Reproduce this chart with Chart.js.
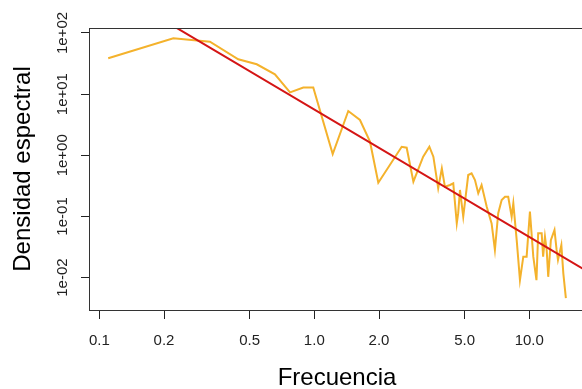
<!DOCTYPE html>
<html>
<head>
<meta charset="utf-8">
<script src="https://cdn.jsdelivr.net/npm/chart.js@4"></script>
<style>
    html, body { margin: 0; padding: 0; background: #ffffff; overflow: hidden; }
    #wrap { width: 584px; height: 389px; }
</style>
</head>
<body>
<div id="wrap"><canvas id="chart" width="584" height="389"></canvas></div>
<script>
// periodogram (frequency, spectral density)
const freq = [
    0.110, 0.221, 0.327, 0.443, 0.540, 0.656, 0.771, 0.889, 0.989, 1.218,
    1.439, 1.631, 1.816, 1.985, 2.55, 2.69, 2.89, 3.21, 3.43, 3.58,
    3.77, 3.92, 4.05, 4.28, 4.43, 4.60, 4.67, 4.76, 4.93, 5.20,
    5.39, 5.59, 5.79, 6.00, 6.34, 6.68, 6.92, 7.17, 7.44, 7.71,
    7.98, 8.28, 8.43, 8.74, 9.05, 9.38, 9.72, 10.07, 10.44, 10.8,
    11.0, 11.42, 11.6, 11.83, 12.05, 12.25, 12.6, 13.1, 13.4, 13.6,
    14.1, 14.4, 14.8,
];
const density = [
    38.6, 81.9, 72.0, 37.1, 30.8, 21.1, 10.7, 12.8, 12.8, 1.05,
    5.3, 3.78, 1.67, 0.356, 1.38, 1.33, 0.370, 0.95, 1.38, 0.95,
    0.289, 0.61, 0.307, 0.327, 0.348, 0.077, 0.113, 0.271, 0.099, 0.476,
    0.508, 0.394, 0.239, 0.327, 0.144, 0.077, 0.0283, 0.113, 0.186, 0.210,
    0.210, 0.099, 0.164, 0.041, 0.0091, 0.022, 0.022, 0.120, 0.022, 0.0091,
    0.053, 0.053, 0.022, 0.0467, 0.0283, 0.0103, 0.041, 0.060, 0.0283, 0.0194,
    0.034, 0.0117, 0.0046,
];

// fitted power law, end points
const fitFreq = [0.0905, 17.97];
const fitDensity = [838, 0.0136];

const xTicks = [0.1, 0.2, 0.5, 1, 2, 5, 10];
const xTickLabels = ["0.1", "0.2", "0.5", "1.0", "2.0", "5.0", "10.0"];
const yTicks = [0.01, 0.1, 1, 10, 100];
const yTickLabels = ["1e-02", "1e-01", "1e+00", "1e+01", "1e+02"];

const YELLOW = "#f4b22c";
const RED = "#d41515";
const INK = "#222222";

const zip = (xs, ys) => xs.map((x, i) => ({ x, y: ys[i] }));

// R style box around the plot region
const boxPlugin = {
    id: "rbox",
    afterDraw(chart) {
        const { ctx, chartArea } = chart;
        ctx.save();
        ctx.strokeStyle = "#333333";
        ctx.lineWidth = 1;
        ctx.strokeRect(
            Math.round(chartArea.left) - 0.5,
            Math.round(chartArea.top) + 0.5,
            Math.round(chartArea.right - chartArea.left) + 1,
            Math.round(chartArea.bottom - chartArea.top)
        );
        ctx.restore();
    },
};

new Chart(document.getElementById("chart"), {
    type: "line",
    data: {
        datasets: [
            {
                data: zip(fitFreq, fitDensity),
                borderColor: RED,
                borderWidth: 2,
                pointRadius: 0,
                tension: 0,
            },
            {
                data: zip(freq, density),
                borderColor: YELLOW,
                borderWidth: 2,
                pointRadius: 0,
                tension: 0,
            },
        ],
    },
    options: {
        responsive: false,
        animation: false,
        events: [],
        layout: { padding: { top: 28, left: 0, right: 0, bottom: 0 } },
        plugins: {
            legend: { display: false },
            tooltip: { enabled: false },
        },
        scales: {
            x: {
                type: "logarithmic",
                bounds: "data",
                min: 0.09051,
                max: 17.97,
                afterBuildTicks: (scale) => {
                    scale.ticks = xTicks.map((value) => ({ value }));
                },
                afterFit: (scale) => {
                    scale.height = 79;
                },
                border: { display: false },
                grid: {
                    drawOnChartArea: false,
                    drawTicks: true,
                    tickLength: 9,
                    tickColor: INK,
                },
                ticks: {
                    autoSkip: false,
                    maxRotation: 0,
                    padding: 13,
                    color: INK,
                    font: { family: "Liberation Sans, Arial, sans-serif", size: 15 },
                    callback: (value, index) => xTickLabels[index],
                },
                title: {
                    display: true,
                    text: "Frecuencia",
                    color: "#000000",
                    padding: { top: 0, bottom: 0 },
                    font: { family: "Liberation Sans, Arial, sans-serif", size: 24, lineHeight: 0.9 },
                },
            },
            y: {
                type: "logarithmic",
                bounds: "data",
                min: 0.002952,
                max: 120.7,
                afterBuildTicks: (scale) => {
                    scale.ticks = yTicks.map((value) => ({ value }));
                },
                afterFit: (scale) => {
                    scale.width = 90;
                },
                border: { display: false },
                grid: {
                    drawOnChartArea: false,
                    drawTicks: true,
                    tickLength: 9,
                    tickColor: INK,
                },
                ticks: {
                    autoSkip: false,
                    minRotation: 90,
                    maxRotation: 90,
                    crossAlign: "center",
                    padding: -3,
                    color: INK,
                    font: { family: "Liberation Sans, Arial, sans-serif", size: 15 },
                    callback: (value, index) => yTickLabels[index],
                },
                title: {
                    display: true,
                    text: "Densidad espectral",
                    color: "#000000",
                    padding: { top: 12.5, bottom: 0 },
                    font: { family: "Liberation Sans, Arial, sans-serif", size: 24, lineHeight: 0.9 },
                },
            },
        },
    },
    plugins: [boxPlugin],
});
</script>
</body>
</html>
